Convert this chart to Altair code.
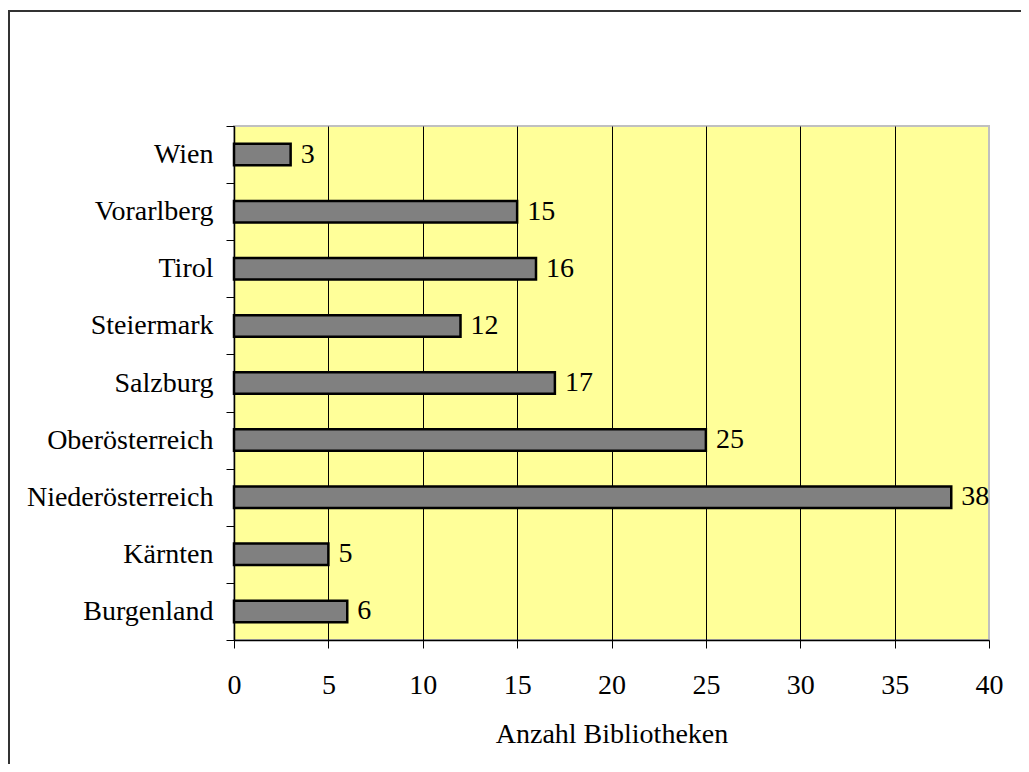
import altair as alt
import pandas as pd

regions = ["Wien", "Vorarlberg", "Tirol", "Steiermark", "Salzburg",
           "Oberösterreich", "Niederösterreich", "Kärnten", "Burgenland"]
counts = [3, 15, 16, 12, 17, 25, 38, 5, 6]
x_ticks = [0, 5, 10, 15, 20, 25, 30, 35, 40]

df = pd.DataFrame({"Bundesland": regions, "Anzahl": counts})
FONT = "Liberation Serif"
FS = 28

y = alt.Y(
    "Bundesland:N", sort=regions,
    scale=alt.Scale(paddingInner=0, paddingOuter=0),
    axis=alt.Axis(title=None, tickBand="extent", tickSize=8, tickColor="black",
                  tickWidth=1, domainColor="black", domainWidth=1.5, labelPadding=13,
                  labelFont=FONT, labelFontSize=FS, labelColor="black",
                  labelLimit=400, grid=False),
)
x = alt.X(
    "Anzahl:Q", scale=alt.Scale(domain=[0, 40], nice=False),
    axis=alt.Axis(values=x_ticks, title="Anzahl Bibliotheken", grid=True,
                  gridColor={"condition": {"test": "datum.value === 40", "value": "#c0c0c0"},
                             "value": "black"},
                  gridWidth=1, tickSize=8, tickColor="black", tickWidth=1,
                  domainColor="black", domainWidth=1.5, labelPadding=23,
                  labelFlush=False, labelFont=FONT, labelFontSize=FS,
                  labelColor="black", titleFont=FONT, titleFontSize=FS,
                  titleFontWeight="normal", titleColor="black",
                  titleBaseline="alphabetic", titleY=102),
)

base = alt.Chart(df)
bars = base.mark_bar(height=21.5, color="#808080", stroke="black", strokeWidth=2.5).encode(x=x, y=y)
labels = base.mark_text(align="left", baseline="middle", dx=10, font=FONT,
                        fontSize=FS, color="black").encode(x=x, y=y, text="Anzahl:Q")

one = alt.Chart(pd.DataFrame({"a": [0]}))
frame_left = one.mark_rule(color="#333333", strokeWidth=2).encode(
    x=alt.value(-225), y=alt.value(-115), y2=alt.value(700))
frame_top = one.mark_rule(color="#333333", strokeWidth=2).encode(
    x=alt.value(-226), x2=alt.value(900), y=alt.value(-115))

chart = alt.layer(bars, labels, frame_left, frame_top).properties(
    width=755, height=514,
    autosize=alt.AutoSizeParams(type="none"),
    padding={"left": 226, "top": 118, "right": 32, "bottom": 124},
).configure_view(fill="#FFFF99", stroke="#c0c0c0", strokeWidth=2)

chart.save("out.html", embed_options={"renderer": "svg", "actions": False})
